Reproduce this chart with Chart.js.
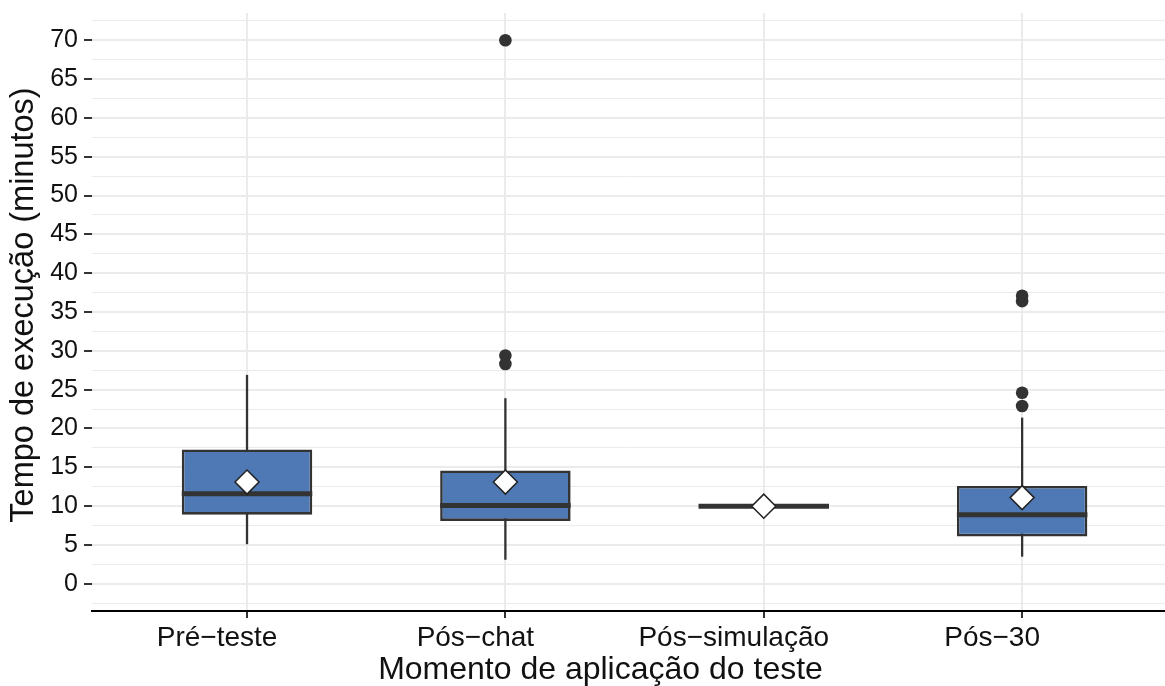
<!DOCTYPE html>
<html lang="pt">
<head>
<meta charset="utf-8">
<title>Tempo de execução por momento de aplicação do teste</title>
<script src="https://cdn.jsdelivr.net/npm/chart.js@4.4.1/dist/chart.umd.min.js"></script>
<style>
  html, body { margin: 0; padding: 0; background: #ffffff; }
  #wrap { width: 1165px; height: 686px; }
</style>
</head>
<body>
<div id="wrap"><canvas id="chart" width="1165" height="686"></canvas></div>
<script>
// Momentos de aplicação (eixo x)
const categories = ['Pré−teste', 'Pós−chat', 'Pós−simulação', 'Pós−30'];

// Resumo de cinco números por momento (minutos)
const whiskerLow  = [5.1, 3.1, 10, 3.5];
const q1          = [8.9, 8.1, 10, 6.1];
const median      = [11.6, 10.1, 10, 8.9];
const q3          = [17.3, 14.6, 10, 12.6];
const whiskerHigh = [26.9, 23.9, 10, 21.4];

// Médias (losangos brancos)
const means = [13.1, 13.1, 10, 11.1];

// Valores atípicos por momento
const outliers = [
  [],
  [28.3, 29.4, 70],
  [],
  [22.9, 24.6, 36.4, 37.1]
];

// Rótulos do eixo y
const yTickLabels = [0, 5, 10, 15, 20, 25, 30, 35, 40, 45, 50, 55, 60, 65, 70];

// Títulos dos eixos
const xTitle = 'Momento de aplicação do teste';
const yTitle = 'Tempo de execução (minutos)';

// Limites dos eixos
const xMin = 0.4, xMax = 4.553;
const yMin = -3.5, yMax = 73.5;

const FONT = "'Liberation Sans', Arial, sans-serif";
const TEXT = '#111111';
const GRID = '#EBEBEB';
const DARK = '#333333';
const BOX_FILL = '#4F79B4';

// deslocamento horizontal dos rótulos e do título do eixo x
const X_LABEL_SHIFT = -30;

const positions = categories.map((_, i) => i + 1);

// linhas de grade: principais nos rótulos, secundárias a meio caminho
const gridValues = [];
yTickLabels.forEach((v, i) => {
  if (i === 0) gridValues.push(v - 2.5);
  gridValues.push(v);
  gridValues.push(v + 2.5);
});
const isMajor = v => yTickLabels.includes(v);

const boxData = positions.map((x, i) => ({ x, y: [q1[i], q3[i]] }));
const meanData = positions.map((x, i) => ({ x, y: means[i] }));
const outlierData = [];
outliers.forEach((vals, i) => vals.forEach(v => outlierData.push({ x: positions[i], y: v })));

const BOX_INDEX = 2;

// bigodes (atrás das caixas) e medianas (sobre as caixas)
const boxPlotLines = {
  id: 'boxPlotLines',
  beforeDatasetsDraw(chart) {
    const { ctx, scales: { x, y } } = chart;
    ctx.save();
    ctx.strokeStyle = DARK;
    ctx.lineWidth = 2.3;
    ctx.lineCap = 'butt';
    positions.forEach((p, i) => {
      if (whiskerHigh[i] === whiskerLow[i]) return;
      const px = x.getPixelForValue(p);
      ctx.beginPath();
      ctx.moveTo(px, y.getPixelForValue(whiskerLow[i]));
      ctx.lineTo(px, y.getPixelForValue(whiskerHigh[i]));
      ctx.stroke();
    });
    ctx.restore();
  },
  afterDatasetDraw(chart, args) {
    if (args.index !== BOX_INDEX) return;
    const { ctx, scales: { y } } = chart;
    const meta = chart.getDatasetMeta(BOX_INDEX);
    ctx.save();
    ctx.strokeStyle = DARK;
    ctx.lineWidth = 5;
    ctx.lineCap = 'butt';
    meta.data.forEach((bar, i) => {
      const half = bar.width / 2;
      const py = y.getPixelForValue(median[i]);
      ctx.beginPath();
      ctx.moveTo(bar.x - half, py);
      ctx.lineTo(bar.x + half, py);
      ctx.stroke();
    });
    ctx.restore();
  }
};

// títulos dos eixos
const axisTitles = {
  id: 'axisTitles',
  afterDraw(chart) {
    const { ctx, chartArea, height } = chart;
    ctx.save();
    ctx.fillStyle = TEXT;
    ctx.textAlign = 'center';
    ctx.textBaseline = 'middle';
    ctx.font = `32px ${FONT}`;
    ctx.fillText(xTitle, (chartArea.left + chartArea.right) / 2 + X_LABEL_SHIFT + 2, height - 16);
    ctx.translate(24.5, (chartArea.top + chartArea.bottom) / 2 - 7);
    ctx.rotate(-Math.PI / 2);
    ctx.font = `32.5px ${FONT}`;
    ctx.fillText(yTitle, 0, 0);
    ctx.restore();
  }
};

new Chart(document.getElementById('chart'), {
  type: 'bar',
  data: {
    datasets: [
      {
        type: 'scatter',
        label: 'Média',
        data: meanData,
        pointStyle: 'rectRot',
        pointRadius: 12,
        pointBackgroundColor: '#FFFFFF',
        pointBorderColor: '#222222',
        pointBorderWidth: 1.5,
        showLine: false
      },
      {
        type: 'scatter',
        label: 'Atípicos',
        data: outlierData,
        pointStyle: 'circle',
        pointRadius: 6.3,
        pointBackgroundColor: DARK,
        pointBorderColor: DARK,
        pointBorderWidth: 0,
        showLine: false
      },
      {
        type: 'bar',
        label: 'Intervalo interquartil',
        data: boxData,
        backgroundColor: BOX_FILL,
        borderColor: DARK,
        borderWidth: 2.6,
        borderSkipped: false,
        barPercentage: 0.505,
        categoryPercentage: 1
      }
    ]
  },
  options: {
    responsive: false,
    animation: false,
    events: [],
    layout: { autoPadding: false, padding: { top: 13, right: 0, bottom: 0, left: 0 } },
    plugins: {
      legend: { display: false },
      tooltip: { enabled: false }
    },
    scales: {
      x: {
        type: 'linear',
        min: xMin,
        max: xMax,
        offset: false,
        afterBuildTicks(scale) {
          scale.ticks = positions.map(v => ({ value: v }));
        },
        afterFit(scale) {
          scale.height = 75;
          scale.paddingLeft = 0;
          scale.paddingRight = 0;
        },
        grid: {
          offset: false,
          color: GRID,
          lineWidth: 2,
          drawTicks: true,
          tickLength: 7,
          tickColor: DARK,
          tickWidth: 2
        },
        border: { display: true, color: '#000000', width: 2 },
        ticks: {
          autoSkip: false,
          maxRotation: 0,
          padding: 3,
          labelOffset: X_LABEL_SHIFT,
          color: TEXT,
          font: { family: FONT, size: 28 },
          callback: v => categories[v - 1] ?? ''
        },
        title: { display: false }
      },
      y: {
        type: 'linear',
        min: yMin,
        max: yMax,
        afterBuildTicks(scale) {
          scale.ticks = gridValues.map(v => ({ value: v }));
        },
        afterFit(scale) {
          scale.width = 92;
          scale.paddingTop = 0;
          scale.paddingBottom = 0;
        },
        grid: {
          color: GRID,
          lineWidth: ctx => (isMajor(ctx.tick.value) ? 2 : 1),
          drawTicks: true,
          tickLength: 8,
          tickColor: ctx => (isMajor(ctx.tick.value) ? DARK : 'rgba(0,0,0,0)'),
          tickWidth: 2
        },
        border: { display: false },
        ticks: {
          autoSkip: false,
          padding: 6,
          color: TEXT,
          font: { family: FONT, size: 25 },
          callback: v => (isMajor(v) ? String(v) : '')
        },
        title: { display: false }
      }
    }
  },
  plugins: [boxPlotLines, axisTitles]
});
</script>
</body>
</html>
